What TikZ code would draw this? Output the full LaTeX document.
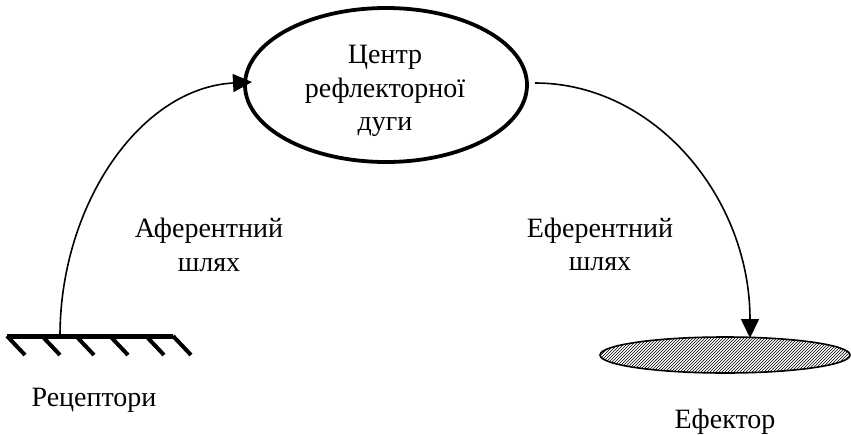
\documentclass[tikz,border=0pt]{standalone}
\usepackage{fontspec}
\setmainfont{Liberation Serif}
\usetikzlibrary{arrows.meta,patterns,shapes.geometric}
\begin{document}
\begin{tikzpicture}[x=1pt,y=-1pt,
  lbl/.style={font=\fontsize{28}{33}\selectfont, inner sep=0pt, anchor=base},
  conn/.style={line width=1.6pt, -{Triangle[length=19pt,width=18pt]}},
  tick/.style={line width=4pt}]
\useasboundingbox (0,0) rectangle (851,434);
% centre ellipse
\node[draw, line width=3.8pt, ellipse, minimum width=282pt, minimum height=154pt, inner sep=0pt] (centre) at (386,85) {};
\node[lbl] (c1) at (385,63) {Центр};
\node[lbl] (c2) at (385,97) {рефлекторної};
\node[lbl] (c3) at (385,130) {дуги};
% receptor
\coordinate (rl) at (7,336);
\coordinate (rr) at (173,336);
\coordinate (rtop) at (60,336);
\draw[line width=5pt] (rl) -- (rr);
\foreach \x in {7,42,76,110,146,173}{
  \draw[tick] (\x,336) -- ++(18,19);
}
\node[lbl] (rec) at (94,406) {Рецептори};
% effector
\node[draw, line width=1.6pt, ellipse, minimum width=250pt, minimum height=36pt, inner sep=0pt,
  pattern=north east lines] (eff) at (725,355) {};
\node[lbl] (efflbl) at (725,428) {Ефектор};
% connectors
\coordinate (cl) at (252,82);
\draw[conn] (rtop) .. controls (60,205) and (140,88) .. (cl);
\coordinate (cr) at (535,83);
\coordinate (et) at (750,338);
\draw[conn] (cr) .. controls (654,83) and (750,197) .. (et);
% path labels
\node[lbl] (a1) at (209,237) {Аферентний};
\node[lbl] (a2) at (209,271) {шлях};
\node[lbl] (e1) at (600,237) {Еферентний};
\node[lbl] (e2) at (600,270) {шлях};
\end{tikzpicture}
\end{document}
